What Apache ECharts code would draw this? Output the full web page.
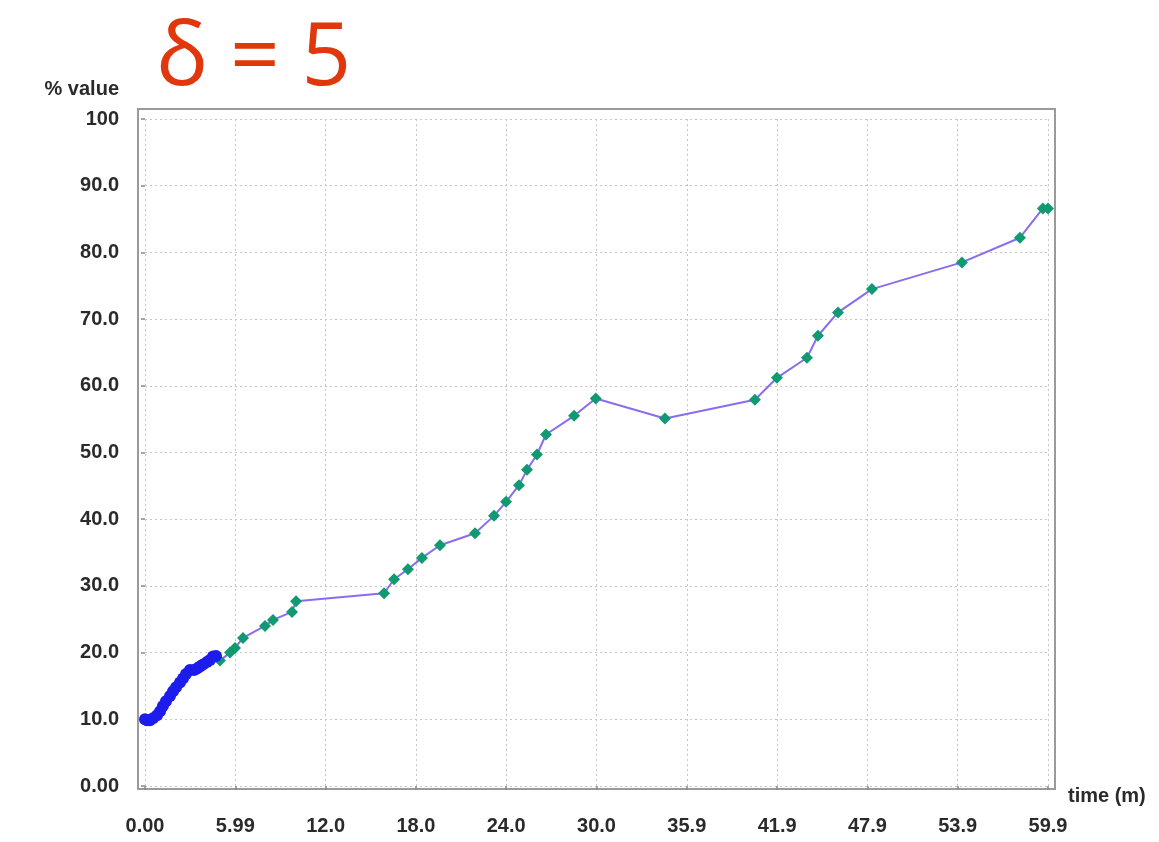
<!DOCTYPE html>
<html>
<head>
<meta charset="utf-8">
<title>δ = 5</title>
<script src="https://cdn.jsdelivr.net/npm/echarts@6/dist/echarts.min.js"></script>
<style>
  html, body { margin: 0; padding: 0; background: #ffffff; }
  #chart { width: 1159px; height: 842px; }
</style>
</head>
<body>
<div id="chart"></div>
<script>
// Axis tick labels
const xTickLabels = ['0.00', '5.99', '12.0', '18.0', '24.0', '30.0', '35.9', '41.9', '47.9', '53.9', '59.9'];
const yTickLabels = ['0.00', '10.0', '20.0', '30.0', '40.0', '50.0', '60.0', '70.0', '80.0', '90.0', '100'];

// Early, densely recorded samples (minutes, % value)
const denseTime = [0.0, 0.13, 0.33, 0.53, 0.80, 1.00, 1.19, 1.39, 1.66, 1.86, 2.06, 2.32, 2.52, 2.72, 2.98, 3.25, 3.45, 3.65, 3.85, 4.11, 4.31, 4.51, 4.71];
const denseValue = [10.0, 9.85, 9.85, 10.15, 10.6, 11.2, 12.0, 12.7, 13.5, 14.2, 14.8, 15.5, 16.1, 16.8, 17.4, 17.4, 17.6, 17.9, 18.2, 18.6, 18.9, 19.4, 19.5];

// Samples kept after the δ = 5 reduction (minutes, % value)
const sampledTime = [4.97, 5.64, 5.97, 6.50, 7.96, 8.49, 9.75, 10.02, 15.86, 16.52, 17.44, 18.37, 19.57, 21.89, 23.15, 23.95, 24.81, 25.34, 26.0, 26.6, 28.46, 29.9, 34.49, 40.46, 41.92, 43.91, 44.64, 45.97, 48.22, 54.19, 58.04, 59.56, 59.9];
const sampledValue = [18.8, 20.0, 20.7, 22.2, 24.0, 24.9, 26.1, 27.7, 28.9, 31.0, 32.5, 34.2, 36.1, 37.9, 40.5, 42.6, 45.1, 47.4, 49.7, 52.7, 55.5, 58.1, 55.1, 57.9, 61.2, 64.2, 67.5, 71.0, 74.5, 78.5, 82.2, 86.6, 86.6];

const X_STEP = 5.99;
const GRID = { left: 145, right: 111, top: 119, bottom: 56 };
const W = 1159, H = 842;
// outer plot frame sits a little outside the value range
const FRAME = { x1: GRID.left - 7, y1: GRID.top - 10, x2: W - GRID.right + 7, y2: H - GRID.bottom + 3 };

const pair = (xs, ys) => xs.map((x, i) => [x, ys[i]]);
const labelFont = { fontFamily: 'Liberation Sans, Arial, sans-serif', fontSize: 20, fontWeight: 'bold', color: '#2a2a2a' };

const chart = echarts.init(document.getElementById('chart'), null, { renderer: 'canvas' });

chart.setOption({
  backgroundColor: '#ffffff',
  animation: false,
  title: {
    text: 'δ\u2005=\u20055',
    left: 151,
    top: 12,
    textStyle: { fontFamily: 'Open Sans, Noto Sans, sans-serif', fontSize: 87, fontWeight: 'normal', color: '#e0380c' }
  },
  grid: { left: GRID.left, right: GRID.right, top: GRID.top, bottom: GRID.bottom, containLabel: false },
  xAxis: {
    type: 'value',
    min: 0,
    max: 59.9,
    interval: X_STEP,
    offset: 3,
    name: 'time (m)',
    nameLocation: 'end',
    nameGap: 20,
    nameTextStyle: Object.assign({}, labelFont, { verticalAlign: 'top', align: 'left' }),
    axisLine: { show: false },
    axisTick: { show: true, length: 4, lineStyle: { color: '#888', width: 1.5 } },
    axisLabel: Object.assign({}, labelFont, {
      margin: 27,
      formatter: v => xTickLabels[Math.round(v / X_STEP)] ?? ''
    }),
    splitLine: { show: true, lineStyle: { color: '#c6c6c6', type: [2, 3], width: 1 } }
  },
  yAxis: {
    type: 'value',
    min: 0,
    max: 100,
    interval: 10,
    offset: 7,
    name: '% value',
    nameLocation: 'end',
    nameGap: 20,
    nameTextStyle: Object.assign({}, labelFont, { align: 'right', padding: [0, 26, 0, 0] }),
    axisLine: { show: false },
    axisTick: { show: true, length: 4, lineStyle: { color: '#888', width: 1.5 } },
    axisLabel: Object.assign({}, labelFont, {
      margin: 19,
      formatter: v => yTickLabels[Math.round(v / 10)] ?? ''
    }),
    splitLine: { show: true, lineStyle: { color: '#c6c6c6', type: [2, 3], width: 1 } }
  },
  graphic: [{
    type: 'rect',
    silent: true,
    z: 0,
    shape: { x: FRAME.x1, y: FRAME.y1, width: FRAME.x2 - FRAME.x1, height: FRAME.y2 - FRAME.y1 },
    style: { fill: 'none', stroke: '#9a9a9a', lineWidth: 2 }
  }],
  series: [
    {
      name: 'sampled',
      type: 'line',
      data: pair(sampledTime, sampledValue),
      symbol: 'diamond',
      symbolSize: 12,
      showSymbol: true,
      itemStyle: { color: '#0f9a72' },
      lineStyle: { color: '#8a6cf0', width: 2 },
      z: 3
    },
    {
      name: 'dense',
      type: 'line',
      data: pair(denseTime, denseValue),
      symbol: 'circle',
      symbolSize: 12,
      showSymbol: true,
      itemStyle: { color: '#1c1ced' },
      lineStyle: { color: '#1c1ced', width: 8 },
      z: 4
    }
  ]
});
</script>
</body>
</html>
